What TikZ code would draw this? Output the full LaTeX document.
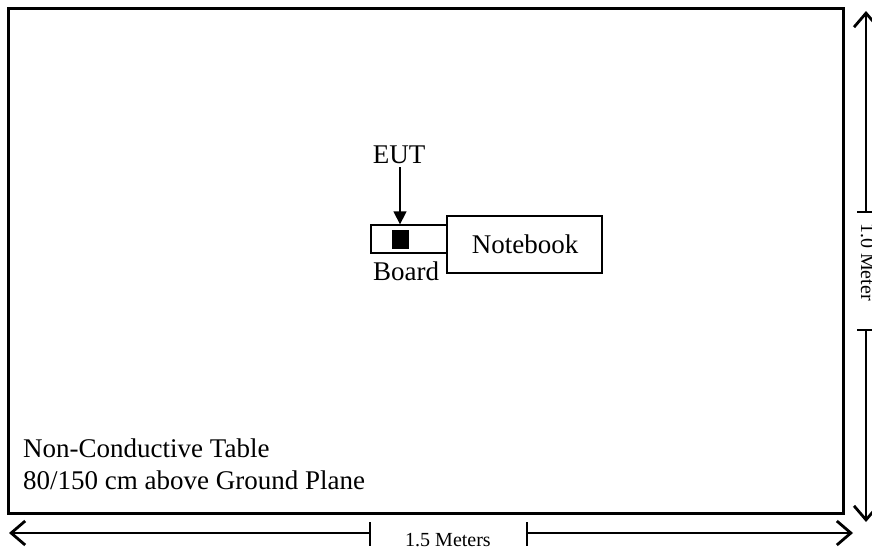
\documentclass[tikz,border=0pt]{standalone}
\usepackage{fontspec}
\setmainfont{Liberation Serif}
\usetikzlibrary{arrows.meta}
\tikzset{
  box/.style={draw, line width=1.3pt, inner sep=0pt},
  lbl/.style={font=\fontsize{27}{31}\selectfont, inner sep=0pt},
  dimlbl/.style={font=\fontsize{20}{24}\selectfont, inner sep=0pt},
  dimline/.style={line width=1.3pt, -{Straight Barb[length=14pt,width=24pt,line width=2.8pt]}},
  tick/.style={line width=1.3pt},
}
\begin{document}
\begin{tikzpicture}[x=1pt,y=-1pt]
\useasboundingbox (0,0) rectangle (872,551);
% table
\draw[line width=3pt] (8,9) rectangle (843,513);
% board and notebook
\node[box, minimum width=76pt, minimum height=28pt] (board) at (409,239) {};
\node[draw, fill=black, minimum width=16pt, minimum height=18pt, inner sep=0pt] (eutsq) at (400,239.5) {};
\node[box, minimum width=155pt, minimum height=57pt] (nb) at (524.5,244.5) {};
\node[lbl, anchor=base] (nbt) at (525,253) {Notebook};
\node[lbl, anchor=base] (boardt) at (406,280) {Board};
\node[lbl, anchor=base] (eut) at (399,163) {EUT};
\coordinate (ea) at (400,167);
\draw[line width=1.3pt, -{Triangle[length=13pt,width=13pt]}] (ea) -- (ea |- board.north);
% table text
\node[lbl, anchor=base west] (t1) at (23,457) {Non-Conductive Table};
\node[lbl, anchor=base west] (t2) at (23,489) {80/150 cm above Ground Plane};
% horizontal dimension
\coordinate (hl) at (370,533);
\coordinate (hr) at (527,533);
\coordinate (hle) at (9,533);
\coordinate (hre) at (853,533);
\draw[dimline] (hl) -- (hle);
\draw[dimline] (hr) -- (hre);
\draw[tick] (370,522) -- (370,546);
\draw[tick] (527,522) -- (527,546);
\node[dimlbl] (hw) at (448,540) {1.5 Meters};
% vertical dimension
\coordinate (vt) at (866,212);
\coordinate (vb) at (866,330);
\coordinate (vte) at (866,11);
\coordinate (vbe) at (866,522);
\draw[dimline] (vt) -- (vte);
\draw[dimline] (vb) -- (vbe);
\draw[tick] (857,212) -- (874,212);
\draw[tick] (857,330) -- (874,330);
\node[dimlbl, rotate=-90, anchor=base] (vh) at (861,262) {1.0 Meter};
\end{tikzpicture}
\end{document}
